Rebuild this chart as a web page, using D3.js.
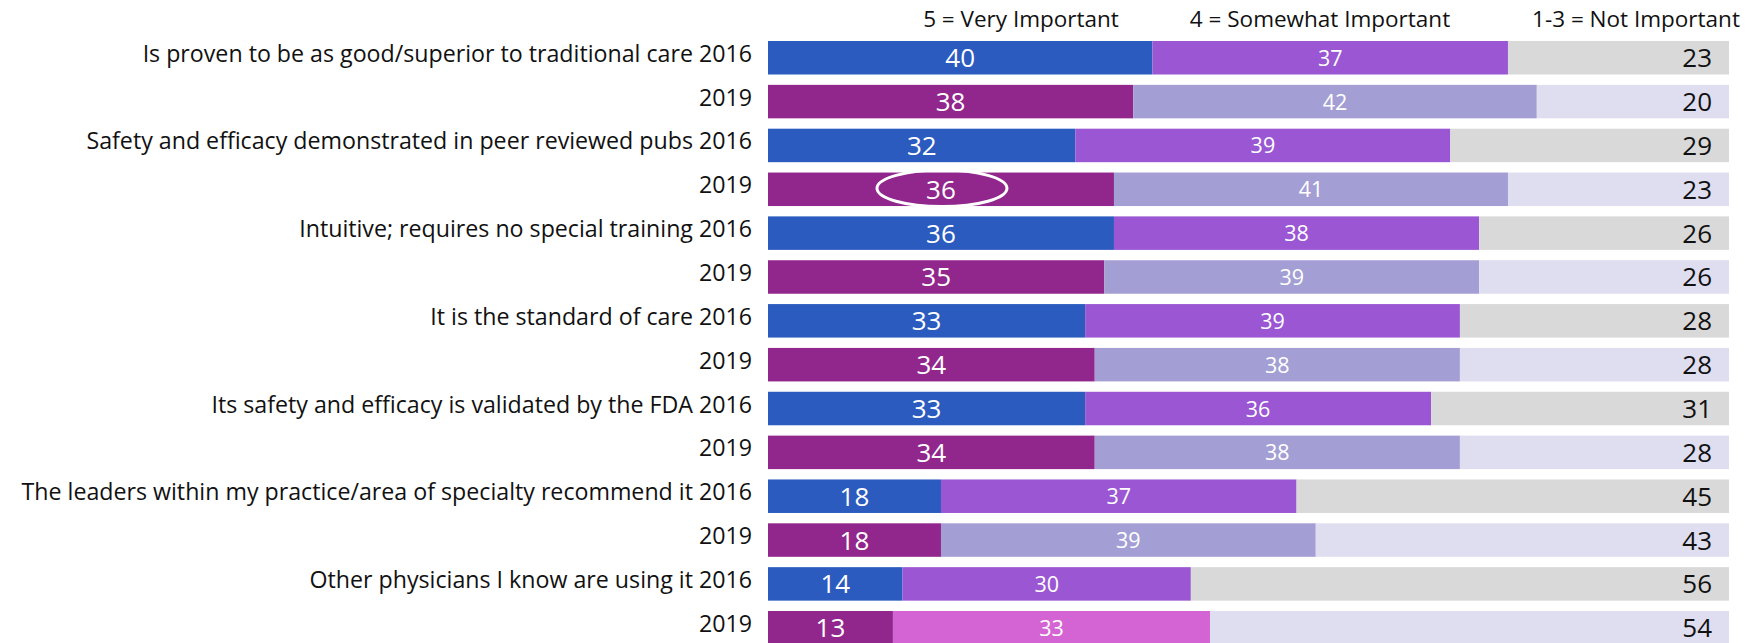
<!DOCTYPE html>
<html>
<head>
<meta charset="utf-8">
<script src="https://cdn.jsdelivr.net/npm/d3@7"></script>
<style>
  html, body { margin: 0; padding: 0; background: #ffffff; }
  svg { display: block; }
  text { font-family: "Open Sans", "Noto Sans", sans-serif; }
</style>
</head>
<body>
<svg id="chart" width="1756" height="643"></svg>
<script>
// ---- DATA ----
const categories = [
  "Is proven to be as good/superior to traditional care",
  "Safety and efficacy demonstrated in peer reviewed pubs",
  "Intuitive; requires no special training",
  "It is the standard of care",
  "Its safety and efficacy is validated by the FDA",
  "The leaders within my practice/area of specialty recommend it",
  "Other physicians I know are using it"
];
const years = ["2016", "2019"];
const seriesLabels = ["5 = Very Important", "4 = Somewhat Important", "1-3 = Not Important"];

const veryImportant2016 = [40, 32, 36, 33, 33, 18, 14];
const veryImportant2019 = [38, 36, 35, 34, 34, 18, 13];
const somewhat2016      = [37, 39, 38, 39, 36, 37, 30];
const somewhat2019      = [42, 41, 39, 38, 38, 39, 33];
const notImportant2016  = [23, 29, 26, 28, 31, 45, 56];
const notImportant2019  = [20, 23, 26, 28, 28, 43, 54];

// highlighted value (circled in the reference): category index, year
const highlight = { category: 1, year: "2019", series: 0 };

// ---- STYLE ----
const colors = {
  "2016": ["#2b5bbf", "#9a56d3", "#d9d9d9"],
  "2019": ["#91278c", "#a39fd4", "#dfdef0"]
};
const lastRowMidColor = "#d464d4";

// ---- BUILD ROWS ----
const values = {
  "2016": [veryImportant2016, somewhat2016, notImportant2016],
  "2019": [veryImportant2019, somewhat2019, notImportant2019]
};
const rows = [];
categories.forEach((cat, ci) => {
  years.forEach(yr => {
    const v = values[yr].map(s => s[ci]);
    let x0 = 0;
    const segs = v.map((val, si) => {
      const seg = { si, start: x0, end: x0 + val, value: val };
      x0 += val;
      return seg;
    });
    rows.push({ id: cat + "|" + yr, cat, ci, yr, segs,
      label: yr === "2016" ? cat + " " + yr : yr });
  });
});

const svg = d3.select("#chart");

const x = d3.scaleLinear().domain([0, 100]).range([768, 1729]);
const y = d3.scaleBand()
  .domain(rows.map(r => r.id))
  .range([41, 644.5])
  .paddingInner(0.236)
  .paddingOuter(0);

// header
const headerX = [1021, 1320, 1636];
svg.append("g").selectAll("text")
  .data(seriesLabels)
  .join("text")
  .attr("x", (d, i) => headerX[i])
  .attr("y", 27)
  .attr("text-anchor", "middle")
  .attr("font-size", 22.5)
  .attr("fill", "#111")
  .text(d => d);

// row labels
svg.append("g").selectAll("text")
  .data(rows)
  .join("text")
  .attr("x", 752)
  .attr("y", d => y(d.id) + y.bandwidth() / 2 + 4)
  .attr("text-anchor", "end")
  .attr("font-size", 23.2)
  .attr("fill", "#111")
  .text(d => d.label);

// bars
const rowG = svg.append("g").selectAll("g")
  .data(rows)
  .join("g")
  .attr("transform", d => `translate(0,${y(d.id)})`);

rowG.selectAll("rect")
  .data(d => d.segs.map(s => ({ ...s, row: d })))
  .join("rect")
  .attr("x", d => x(d.start))
  .attr("width", d => x(d.end) - x(d.start))
  .attr("y", 0)
  .attr("height", y.bandwidth())
  .attr("fill", d => {
    if (d.row.ci === categories.length - 1 && d.row.yr === "2019" && d.si === 1) return lastRowMidColor;
    return colors[d.row.yr][d.si];
  });

// value labels
rowG.selectAll("text")
  .data(d => d.segs.map(s => ({ ...s, row: d })))
  .join("text")
  .attr("x", d => d.si === 2 ? x(100) - 17 : (x(d.start) + x(d.end)) / 2)
  .attr("y", d => y.bandwidth() / 2 + (d.si === 1 ? 8 : 9.5))
  .attr("text-anchor", d => d.si === 2 ? "end" : "middle")
  .attr("font-size", d => d.si === 1 ? 21.5 : 26)
  .attr("fill", d => d.si === 2 ? "#111" : "#ffffff")
  .text(d => d.value);

// highlight ellipse
const hRow = rows.find(r => r.ci === highlight.category && r.yr === highlight.year);
const hSeg = hRow.segs[highlight.series];
svg.append("ellipse")
  .attr("cx", (x(hSeg.start) + x(hSeg.end)) / 2 + 1)
  .attr("cy", y(hRow.id) + y.bandwidth() / 2 - 1)
  .attr("rx", 65)
  .attr("ry", 18.3)
  .attr("fill", "none")
  .attr("stroke", "#ffffff")
  .attr("stroke-width", 3);
</script>
</body>
</html>
